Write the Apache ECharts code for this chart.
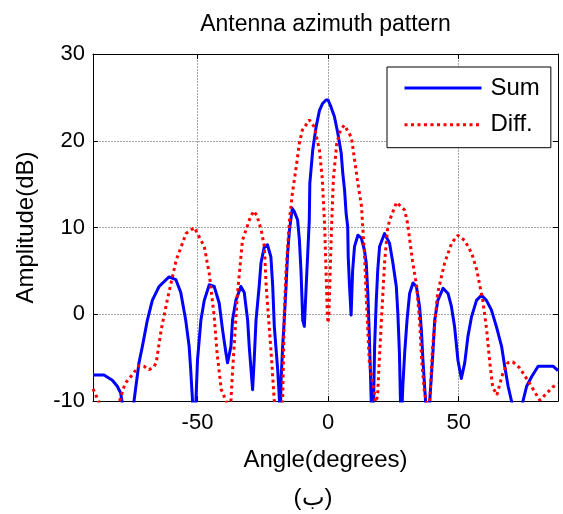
<!DOCTYPE html>
<html>
<head>
<meta charset="utf-8">
<script src="https://cdn.jsdelivr.net/npm/echarts@6/dist/echarts.min.js"></script>
<style>
html,body{margin:0;padding:0;background:#fff;}
#chart{width:563px;height:514px;}
</style>
</head>
<body>
<div id="chart"></div>
<script>
// ---- data ----
const titleText = 'Antenna azimuth pattern';
const xName = 'Angle(degrees)';
const yName = 'Amplitude(dB)';
const captionText = '(ب)';
const seriesNames = ['Sum', 'Diff.'];
const xTicks = [-50, 0, 50];
const yTicks = [-10, 0, 10, 20, 30];

const sumAngles = [-90,-85.8,-82.6,-80.7,-79.4,-78.8,-77,-74.8,-74.3,-72.4,-71.1,-69.2,-67.3,-64.7,-60.9,-58.3,-56.4,-54.5,-53.2,-52.6,-51.9,-51.3,-50.6,-50.0,-48.7,-47.4,-45.5,-43.6,-41.7,-40.4,-39.1,-38.5,-37.2,-36.6,-35.3,-33.4,-32.1,-30.8,-30.2,-29.5,-28.9,-28.3,-27.6,-26.4,-25.7,-24.4,-23.2,-21.9,-21.2,-20.6,-19.3,-18.7,-18.3,-18.0,-17.4,-16.8,-16.1,-15.5,-14.8,-13.7,-12.9,-11.7,-11.0,-10.4,-9.7,-9.1,-8.4,-7.8,-7.2,-7.0,-5.9,-4.6,-3.3,-2.1,-0.8,0,1.1,2.4,3.7,5.0,5.6,6.3,6.9,7.5,7.7,8.2,8.8,9.4,10.1,11.4,12.7,13.9,14.6,15.2,15.8,16.5,16.9,17.4,17.8,18.4,19.0,19.7,21.6,23.5,24.8,26.1,26.7,27.3,27.7,28.0,28.6,29.3,30.2,31.2,32.5,33.8,35.0,35.7,36.3,37.3,37.7,38.3,38.9,40.1,40.8,42.0,44.0,45.9,47.2,48.4,49.7,51.0,52.3,53.5,54.9,56.8,58.7,60.6,62.5,64.4,66.4,67.6,68.9,70.2,72.4,74.6,76.0,77.9,80.4,86.2,88];
const sumValues = [-7.0,-7.0,-7.6,-8.3,-9.1,-10.2,-20,-12,-10,-5.6,-3.7,-0.7,1.6,3.2,4.3,4.0,2.5,-0.7,-3.7,-6.4,-10,-16,-10,-5.3,-0.7,1.6,3.4,3.2,1.3,-1.8,-4.5,-5.6,-3.7,-0.7,1.6,3.2,2.5,-0.7,-3.7,-6.4,-8.7,-5.3,-0.7,3.2,5.9,7.8,8.0,6.6,3.2,-1.4,-6.4,-9.5,-12,-7.6,-3.7,-0.7,3.2,7.0,9.7,12.2,11.8,10.9,8.6,5.1,-0.7,-1.4,3.2,7.0,10.9,15.1,18.9,21.6,23.5,24.3,24.7,24.7,23.9,22.8,20.9,18.6,16.3,14.3,11.6,10.1,6.6,3.2,-0.1,5.1,7.8,9.1,8.8,7.4,5.9,2.4,-2.6,-10,-15,-10,-3.7,1.3,5.1,7.8,9.3,8.2,5.9,3.2,0.1,-4.5,-10,-13,-8.3,-4.5,-0.7,2.4,3.6,3.2,0.9,-1.8,-5.3,-10,-15,-15,-10,-4.5,-0.7,1.6,3.0,2.4,0.9,-1.4,-5.3,-7.4,-5.6,-2.6,-0.3,1.6,2.2,1.6,0.5,-1.4,-3.7,-6.0,-8.3,-10,-13,-10,-8.3,-7.2,-6.0,-6.0,-6.5];

const diffAngles = [-90,-89.5,-87.9,-86,-81.5,-79.8,-79.1,-78.3,-77.5,-75,-72.3,-70.5,-68.5,-66.6,-65.8,-63.9,-61.6,-58.2,-54.4,-51.2,-47.4,-45.5,-43.6,-42.5,-40.9,-39,-38,-37.2,-36.7,-34.8,-32.8,-30.1,-28.5,-27.3,-25.6,-24.4,-23.7,-21.8,-20.6,-19,-17.4,-16.8,-16.1,-14.8,-13.7,-12.2,-11,-9.9,-7.2,-5.3,-3.3,-2.2,-1.3,-0.8,-0.3,0,0.3,0.8,1.3,2.0,3.3,4.7,6.2,8.9,10,11.2,12.8,13.1,13.9,15,15.8,17.7,18.3,19.0,19.6,20.4,21.6,22.7,23.5,26.2,29.3,30.4,32.3,33.9,35,35.8,36.9,37.7,38.3,38.9,40,41.9,44.6,47.3,49.6,52.3,55,56.9,59.2,60.7,61.9,63,64.6,66.9,68.8,70.7,73.4,77.2,81,83.7,86,88];
const diffValues = [-8.6,-8.7,-10,-13,-13,-10,-9.3,-8.5,-7.9,-7.0,-5.9,-6.0,-6.4,-6.0,-5.6,-1.8,1.6,6.2,9.3,10,7.8,4.7,-0.3,-4.5,-8.7,-10,-13,-10,-7.2,2.0,8.5,10.9,11.9,11.4,9.7,7.8,3.2,-4.5,-10,-13,-10,0,5,10.8,13.9,17,19.7,21.2,22.4,21.6,18.9,15.5,10,5,0,-1,0,5,10,15.5,19.7,21.2,21.8,20.4,18.1,15.5,12.4,10.8,7,-0.7,-5.6,-9.1,-10.5,-9.0,-5.3,-0.7,5.9,9.7,10.8,12.9,12.0,10.5,6.2,3.2,-0.7,-5.3,-9.1,-10,-13,-10,-3.8,2.4,5.9,8.2,9.1,8.5,7.0,5.1,1.6,-1.8,-5.6,-8.4,-9.3,-6.8,-5.6,-5.5,-6.2,-8.0,-9.9,-9.1,-8.4,-8.0];

const X_MIN = -90, X_MAX = 88, Y_MIN = -10, Y_MAX = 30;

// ---- chart ----
const FONT = "'Liberation Sans', Arial, sans-serif";
const pair = (xs, ys) => xs.map((x, i) => [x, ys[i]]);

const chart = echarts.init(document.getElementById('chart'), null, {renderer: 'canvas'});

const baseAxisLine = {show: true, onZero: false, lineStyle: {color: '#000', width: 1}};
const tickStyle = {show: true, inside: true, length: 5, lineStyle: {color: '#000', width: 1}};
const gridLine = {show: true, lineStyle: {color: '#a6a6a6', width: 1, type: [2, 1]}};

chart.setOption({
  animation: false,
  backgroundColor: '#fff',
  title: {
    text: titleText,
    left: 325.5,
    top: 13,
    padding: 0,
    textAlign: 'center',
    textStyle: {fontFamily: FONT, fontSize: 23, fontWeight: 'normal', color: '#000'}
  },
  grid: {left: 93, right: 5, top: 54, bottom: 113, containLabel: false, outerBoundsMode: 'none'},
  legend: {
    orient: 'vertical',
    left: 387,
    top: 67,
    padding: [9, 11, 11, 16],
    itemWidth: 77,
    itemHeight: 24,
    itemGap: 12.7,
    backgroundColor: '#fff',
    borderColor: '#000',
    borderWidth: 1,
    borderRadius: 0,
    data: seriesNames,
    itemStyle: {opacity: 0, borderWidth: 0},
    lineStyle: {width: 3, opacity: 1},
    textStyle: {fontFamily: FONT, fontSize: 24, color: '#000', padding: [0, 0, 0, 4]}
  },
  xAxis: [{
    type: 'value', min: X_MIN, max: X_MAX, position: 'bottom',
    name: xName, nameLocation: 'middle', nameGap: 47,
    nameTextStyle: {fontFamily: FONT, fontSize: 24, color: '#000'},
    axisLine: baseAxisLine,
    axisTick: Object.assign({customValues: xTicks}, tickStyle),
    axisLabel: {customValues: xTicks, fontFamily: FONT, fontSize: 22, color: '#000', margin: 11},
    splitLine: gridLine
  }, {
    type: 'value', min: X_MIN, max: X_MAX, position: 'top',
    axisLine: baseAxisLine,
    axisTick: Object.assign({customValues: xTicks}, tickStyle),
    axisLabel: {show: false, customValues: xTicks},
    splitLine: {show: false}
  }],
  yAxis: [{
    type: 'value', min: Y_MIN, max: Y_MAX, interval: 10, position: 'left',
    name: yName, nameLocation: 'middle', nameGap: 55,
    nameTextStyle: {fontFamily: FONT, fontSize: 24, color: '#000'},
    axisLine: baseAxisLine,
    axisTick: tickStyle,
    axisLabel: {fontFamily: FONT, fontSize: 22, color: '#000', margin: 8},
    splitLine: gridLine
  }, {
    type: 'value', min: Y_MIN, max: Y_MAX, interval: 10, position: 'right',
    axisLine: baseAxisLine,
    axisTick: tickStyle,
    axisLabel: {show: false},
    splitLine: {show: false}
  }],
  series: [{
    name: seriesNames[0],
    type: 'line',
    xAxisIndex: 0, yAxisIndex: 0,
    data: pair(sumAngles, sumValues),
    symbol: 'none',
    clip: true,
    lineStyle: {color: '#0000ff', width: 3, join: 'round'},
    itemStyle: {color: '#0000ff'},
    z: 3
  }, {
    name: seriesNames[1],
    type: 'line',
    xAxisIndex: 0, yAxisIndex: 0,
    data: pair(diffAngles, diffValues),
    symbol: 'none',
    clip: true,
    lineStyle: {color: '#ff0000', width: 3, type: [3, 3.5]},
    itemStyle: {color: '#ff0000'},
    z: 4
  }],
  graphic: [{
    type: 'text',
    x: 313, y: 498,
    style: {
      text: captionText,
      fontFamily: FONT, fontSize: 24, fill: '#000',
      align: 'center', verticalAlign: 'middle'
    }
  }]
});
</script>
</body>
</html>
